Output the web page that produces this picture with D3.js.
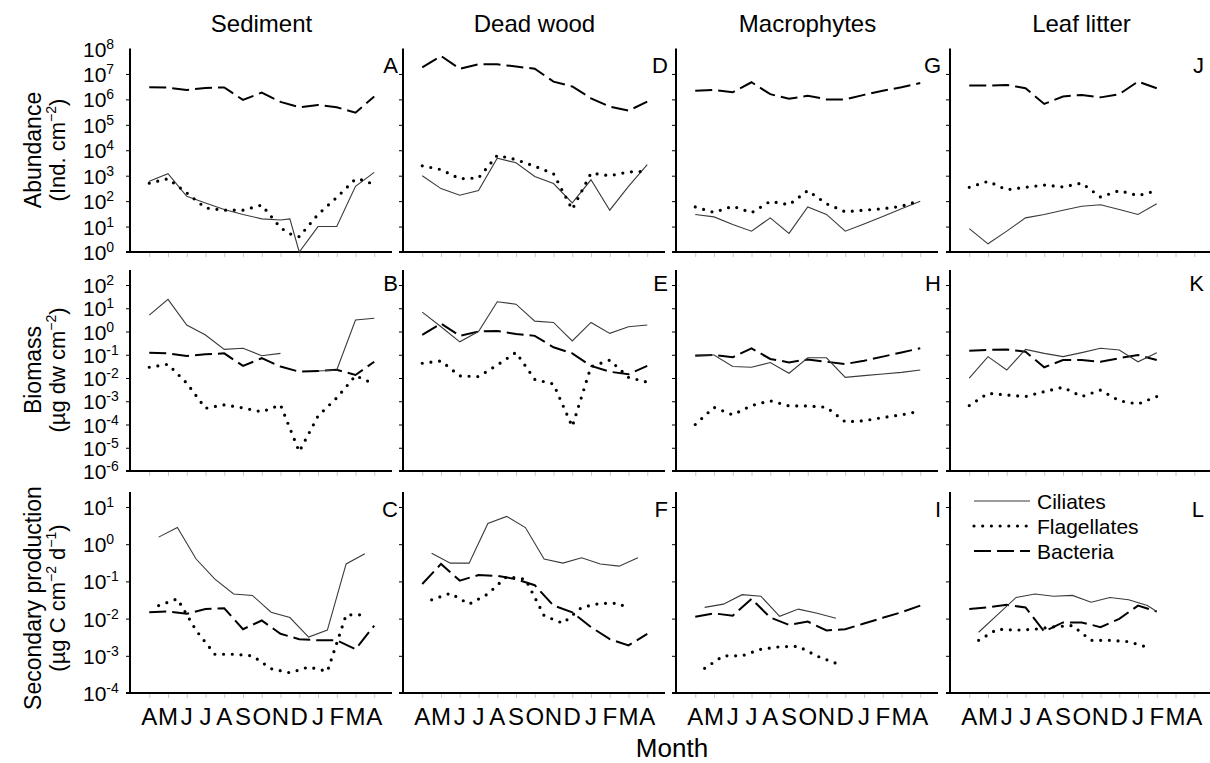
<!DOCTYPE html>
<html>
<head>
<meta charset="utf-8">
<script src="https://cdn.jsdelivr.net/npm/d3@7/dist/d3.min.js"></script>
<style>
  body { margin: 0; background: #fff; }
  text { font-family: "Liberation Sans", Arial, Helvetica, sans-serif; fill: #000; }
</style>
</head>
<body>
<script>
var W = 1210, H = 763;

var habitats = ["Sediment", "Dead wood", "Macrophytes", "Leaf litter"];
var monthLetters = ["A", "M", "J", "J", "A", "S", "O", "N", "D", "J", "F", "M", "A"];
var panelLetters = [["A", "B", "C"], ["D", "E", "F"], ["G", "H", "I"], ["J", "K", "L"]];
var seriesNames = ["Ciliates", "Flagellates", "Bacteria"];

// [month index from April (0) to April (12), value]
// sediment
var sedAbCil = [[0,600],[1,1200],[2,155],[3,85],[4,47],[5,30],[6,20],[7,18],[7.5,20],[8,1],[9,10],[10,10],[11,380],[12,1350]];
var sedAbFla = [[0,510],[1,760],[2,210],[3,54],[4,44],[5,44],[6,70],[7,9],[7.5,5.2],[8,4],[9,30],[10,140],[11,740],[11.5,660],[12,420]];
var sedAbBac = [[0,3.0e6],[1,2.9e6],[2,2.35e6],[3,2.8e6],[4,2.95e6],[5,9.5e5],[6,1.85e6],[7,8e5],[8,4.9e5],[9,6e5],[10,4.9e5],[11,3.0e5],[12,1.3e6]];
var sedBmCil = [[0,5.1],[1,24],[2,1.9],[3,0.71],[4,0.17],[5,0.19],[6,0.091],[7,0.115],[8,null],[9,0.02],[10,0.022],[11,3.1],[12,3.7]];
var sedBmFla = [[0,0.029],[1,0.039],[2,0.006],[3,0.0005],[4,0.0007],[5,0.00052],[6,0.00035],[7,0.0007],[8,6.8e-6],[9,0.00023],[10,0.0014],[11,0.0126],[12,0.0055]];
var sedBmBac = [[0,0.123],[1,0.115],[2,0.089],[3,0.105],[4,0.115],[5,0.033],[6,0.071],[7,0.031],[8,0.0186],[9,0.02],[10,0.0224],[11,0.0135],[12,0.05]];
var sedPrCil = [[0.5,1.55],[1.5,2.8],[2.5,0.4],[3.5,0.115],[4.5,0.046],[5.5,0.042],[6.5,0.0148],[7.5,0.0107],[8.5,0.0032],[9.5,0.0049],[10.5,0.295],[11.5,0.55]];
var sedPrFla = [[0.5,0.0224],[1.5,0.034],[2.5,0.0048],[3.5,0.0011],[4.5,0.0011],[5.5,0.001],[6.5,0.00045],[7.5,0.00035],[8.5,0.0005],[9.5,0.00038],[10.5,0.0126],[11.5,0.0126]];
var sedPrBac = [[0,0.0148],[1,0.0155],[2,0.0135],[3,0.018],[4,0.019],[5,0.0052],[6,0.0089],[7,0.0039],[8,0.0028],[9,0.0026],[10,0.0026],[11,0.0015],[12,0.0065]];
// dead wood
var dwAbCil = [[0,1000],[1,310],[2,170],[3,260],[4,4900],[5,3200],[6,930],[7,490],[8,85],[9,690],[10,44],[11,380],[12,2700]];
var dwAbFla = [[0,2450],[1,1740],[2,760],[3,810],[4,6300],[5,4300],[6,2350],[7,1200],[8,47],[9,1260],[10,1000],[11,1400],[12,1480]];
var dwAbBac = [[0,1.8e7],[1,5.1e7],[2,1.6e7],[3,2.4e7],[4,2.4e7],[5,1.95e7],[6,1.6e7],[7,5e6],[8,3.2e6],[9,1.1e6],[10,5.2e5],[11,3.6e5],[12,8.1e5]];
var dwBmCil = [[0,6.8],[1,1.6],[2,0.36],[3,1.0],[4,19],[5,15],[6,2.8],[7,2.45],[8,0.39],[9,2.45],[10,0.83],[11,1.6],[12,1.9]];
var dwBmFla = [[0,0.043],[1,0.054],[2,0.0123],[3,0.0115],[4,0.036],[5,0.126],[6,0.0087],[7,0.0055],[8,8.1e-5],[9,0.031],[10,0.059],[11,0.0107],[12,0.0066]];
var dwBmBac = [[0,0.71],[1,2.2],[2,0.65],[3,1.0],[4,1.05],[5,0.78],[6,0.65],[7,0.21],[8,0.115],[9,0.033],[10,0.0186],[11,0.0145],[12,0.033]];
var dwPrCil = [[0.5,0.575],[1.5,0.31],[2.5,0.31],[3.5,3.6],[4.5,5.6],[5.5,2.8],[6.5,0.4],[7.5,0.31],[8.5,0.43],[9.5,0.295],[10.5,0.257],[11.5,0.43]];
var dwPrFla = [[0.5,0.032],[1.5,0.048],[2.5,0.0245],[3.5,0.046],[4.5,0.135],[5.5,0.115],[6.5,0.012],[7.5,0.0075],[8.5,0.02],[9.5,0.0257],[10.5,0.0257],[11,0.018]];
var dwPrBac = [[0,0.085],[1,0.295],[2,0.105],[3,0.148],[4,0.141],[5,0.115],[6,0.079],[7,0.0224],[8,0.0148],[9,0.0059],[10,0.0028],[11,0.0019],[12,0.0039]];
// macrophytes
var maAbCil = [[0,30],[1,24],[2,12],[3,6.6],[4,22],[5,5.4],[6,59],[7,30],[8,6.6],[9,12.6],[10,25],[11,50],[12,98]];
var maAbFla = [[0,59],[1,36],[2,63],[3,35],[4,98],[5,72],[6,260],[7,79],[8,38],[9,44],[10,50],[11,63],[12,105]];
var maAbBac = [[0,2.2e6],[1,2.35e6],[2,1.9e6],[3,4.7e6],[4,1.6e6],[5,1.05e6],[6,1.4e6],[7,1.0e6],[8,1.0e6],[9,1.5e6],[10,2.2e6],[11,3.0e6],[12,4.4e6]];
var maBmCil = [[0,0.098],[1,0.098],[2,0.031],[3,0.029],[4,0.046],[5,0.016],[6,0.074],[7,0.074],[8,0.0107],[9,0.0126],[10,0.0148],[11,0.0174],[12,0.022]];
var maBmFla = [[0,1.0e-4],[1,5.5e-4],[2,2.6e-4],[3,6.5e-4],[4,1.05e-3],[5,6.3e-4],[6,6.3e-4],[7,5.5e-4],[8,1.3e-4],[9,1.45e-4],[10,2.0e-4],[11,2.6e-4],[12,3.8e-4]];
var maBmBac = [[0,0.091],[1,0.098],[2,0.078],[3,0.19],[4,0.066],[5,0.047],[6,0.063],[7,0.05],[8,0.04],[9,0.055],[10,0.083],[11,0.126],[12,0.19]];
var maPrCil = [[0.5,0.02],[1.5,0.0245],[2.5,0.044],[3.5,0.04],[4.5,0.0115],[5.5,0.018],[6.5,0.014],[7.5,0.0102]];
var maPrFla = [[0.5,4.6e-4],[1.5,1.0e-3],[2.5,1.0e-3],[3.5,1.5e-3],[4.5,1.75e-3],[5.5,1.8e-3],[6.5,9.8e-4],[7.5,6.3e-4]];
var maPrBac = [[0,0.0112],[1,0.0138],[2,0.012],[3,0.034],[4,0.0107],[5,0.0068],[6,0.0083],[7,0.0048],[8,0.0052],[9,0.0074],[10,0.0105],[11,0.0148],[12,0.0224]];
// leaf litter
var llAbCil = [[0,8.3],[1,2.1],[2,6.6],[3,22],[4,30],[5,44],[6,63],[7,72],[8,47],[9,30],[10,79]];
var llAbFla = [[0,350],[1,600],[2,280],[3,350],[4,430],[5,360],[6,510],[7,145],[8,260],[9,165],[10,260]];
var llAbBac = [[0,3.5e6],[1,3.5e6],[2,3.7e6],[3,2.75e6],[4,6.6e5],[5,1.3e6],[6,1.5e6],[7,1.2e6],[8,1.6e6],[9,5.0e6],[10,2.75e6]];
var llBmCil = [[0,0.0098],[1,0.083],[2,0.022],[3,0.17],[4,0.115],[5,0.083],[6,0.123],[7,0.19],[8,0.16],[9,0.05],[10,0.123]];
var llBmFla = [[0,6.5e-4],[1,2.2e-3],[2,1.85e-3],[3,1.6e-3],[4,2.6e-3],[5,4.0e-3],[6,1.6e-3],[7,3.0e-3],[8,1.05e-3],[9,7.6e-4],[10,1.6e-3]];
var llBmBac = [[0,0.15],[1,0.16],[2,0.17],[3,0.135],[4,0.029],[5,0.059],[6,0.059],[7,0.05],[8,0.071],[9,0.098],[10,0.059]];
var llPrCil = [[0.5,0.0043],[1.5,0.0126],[2.5,0.037],[3.5,0.046],[4.5,0.04],[5.5,0.042],[6.5,0.0275],[7.5,0.037],[8.5,0.032],[9.5,0.0224],[10,0.0155]];
var llPrFla = [[0.5,0.0026],[1.5,0.0052],[2.5,0.0049],[3.5,0.0052],[4.5,0.006],[5.5,0.0065],[6.5,0.0026],[7.5,0.0026],[8.5,0.0024],[9.5,0.0017]];
var llPrBac = [[0,0.018],[1,0.02],[2,0.0234],[3,0.02],[4,0.0045],[5,0.0079],[6,0.0079],[7,0.0059],[8,0.0098],[9,0.0224],[10,0.0155]];

var panels = [
  [[sedAbCil, sedAbFla, sedAbBac], [sedBmCil, sedBmFla, sedBmBac], [sedPrCil, sedPrFla, sedPrBac]],
  [[dwAbCil, dwAbFla, dwAbBac], [dwBmCil, dwBmFla, dwBmBac], [dwPrCil, dwPrFla, dwPrBac]],
  [[maAbCil, maAbFla, maAbBac], [maBmCil, maBmFla, maBmBac], [maPrCil, maPrFla, maPrBac]],
  [[llAbCil, llAbFla, llAbBac], [llBmCil, llBmFla, llBmBac], [llPrCil, llPrFla, llPrBac]]
];

var svg = d3.select("body").append("svg")
  .attr("width", W)
  .attr("height", H);

var colLeft = [130, 403, 676, 950];
var letterX = [398, 668, 941, 1204];
var panelW = 263;

var rows = [
  {axisTop: 48.5, yBot: 252, yTop: 48.5, lo: 0, hi: 8, letterY: 73, midY: 150,
   title: ["Abundance", ["(Ind. cm", "\u22122", ")"]]},
  {axisTop: 270, yBot: 471, yTop: 285, lo: -6, hi: 2, letterY: 291, midY: 370,
   title: ["Biomass", ["(\u00b5g dw cm", "\u22122", ")"]]},
  {axisTop: 492, yBot: 693, yTop: 507, lo: -4, hi: 1, letterY: 517, midY: 598,
   title: ["Secondary production", null]}
];

var styles = [
  {stroke: "#3a3a3a", width: 1.1, dash: null, cap: "butt"},
  {stroke: "#000", width: 3.2, dash: "0 8.7", cap: "round"},
  {stroke: "#000", width: 2, dash: "17 6", cap: "butt"}
];

function sup(sel, base, exp, size) {
  sel.append("tspan").text(base);
  sel.append("tspan").attr("font-size", size).attr("dy", -8).text(exp);
}

// column titles
habitats.forEach(function(h, c) {
  svg.append("text")
    .attr("x", colLeft[c] + panelW / 2)
    .attr("y", 32)
    .attr("text-anchor", "middle")
    .attr("font-size", 24)
    .text(h);
});

rows.forEach(function(r, ri) {
  var y = d3.scaleLog()
    .domain([Math.pow(10, r.lo), Math.pow(10, r.hi)])
    .range([r.yBot, r.yTop]);

  // tick labels on the first column
  d3.range(r.lo, r.hi + 1).forEach(function(e) {
    var t = svg.append("text")
      .attr("x", 83)
      .attr("y", y(Math.pow(10, e)) + 8)
      .attr("font-size", 21);
    sup(t, "10", e < 0 ? "-" + (-e) : "" + e, 14);
  });

  // row title
  var g = svg.append("g").attr("transform", "translate(41," + r.midY + ") rotate(-90)");
  g.append("text").attr("text-anchor", "middle").attr("font-size", 23).text(r.title[0]);
  var t2 = g.append("text").attr("text-anchor", "middle").attr("font-size", 22).attr("y", 24);
  if (r.title[1]) {
    t2.append("tspan").text(r.title[1][0]);
    t2.append("tspan").attr("font-size", 14).attr("dy", -9).text(r.title[1][1]);
    t2.append("tspan").attr("dy", 9).text(r.title[1][2]);
  } else {
    t2.append("tspan").text("(\u00b5g C cm");
    t2.append("tspan").attr("font-size", 14).attr("dy", -9).text("\u22122");
    t2.append("tspan").attr("dy", 9).text(" d");
    t2.append("tspan").attr("font-size", 14).attr("dy", -9).text("\u22121");
    t2.append("tspan").attr("dy", 9).text(")");
  }

  colLeft.forEach(function(left, c) {
    var x = d3.scaleLinear().domain([-1, 13]).range([left + 0.5, left + panelW]);
    var p = svg.append("g");

    // y ticks
    var tickVals = d3.range(r.lo + 1, r.hi + 1).map(function(e) { return Math.pow(10, e); })
      .filter(function(v) { return y(v) > r.axisTop + 1; });
    p.append("g")
      .attr("transform", "translate(" + left + ",0)")
      .call(d3.axisLeft(y).tickValues(tickVals).tickSize(4).tickFormat(""))
      .call(function(a) {
        a.select(".domain").remove();
        a.selectAll("line").attr("stroke", "#000").attr("stroke-width", 1);
      });

    // x ticks
    p.append("g")
      .attr("transform", "translate(0," + (r.yBot + 1) + ")")
      .call(d3.axisBottom(x).tickValues(d3.range(0, 13)).tickSize(4).tickFormat(""))
      .call(function(a) {
        a.select(".domain").remove();
        a.selectAll("line").attr("stroke", "#c8c8c8").attr("stroke-width", 1);
      });

    // axis lines
    p.append("line")
      .attr("x1", left).attr("x2", left)
      .attr("y1", r.axisTop).attr("y2", r.yBot + 1)
      .attr("stroke", "#000").attr("stroke-width", 2);
    p.append("line")
      .attr("x1", left - 4).attr("x2", left + panelW - 1)
      .attr("y1", r.yBot).attr("y2", r.yBot)
      .attr("stroke", "#000").attr("stroke-width", 2);

    // series
    var line = d3.line()
      .defined(function(d) { return d[1] != null; })
      .x(function(d) { return x(d[0]); })
      .y(function(d) { return y(d[1]); });

    [2, 0, 1].forEach(function(si) {
      var s = styles[si];
      p.append("path")
        .datum(panels[c][ri][si])
        .attr("d", line)
        .attr("fill", "none")
        .attr("stroke", s.stroke)
        .attr("stroke-width", s.width)
        .attr("stroke-dasharray", s.dash)
        .attr("stroke-linecap", s.cap);
    });

    // panel letter
    p.append("text")
      .attr("x", letterX[c])
      .attr("y", r.letterY)
      .attr("text-anchor", "end")
      .attr("font-size", 22)
      .text(panelLetters[c][ri]);

    // month letters on the bottom row
    if (ri === 2) {
      monthLetters.forEach(function(m, i) {
        p.append("text")
          .attr("x", x(i))
          .attr("y", 725)
          .attr("text-anchor", "middle")
          .attr("font-size", 24)
          .text(m);
      });
    }
  });
});

// legend in panel L
var legY = [501, 526, 551];
seriesNames.forEach(function(n, i) {
  var s = styles[i];
  svg.append("line")
    .attr("x1", 974).attr("x2", 1030)
    .attr("y1", legY[i]).attr("y2", legY[i])
    .attr("stroke", s.stroke)
    .attr("stroke-width", s.width)
    .attr("stroke-dasharray", s.dash)
    .attr("stroke-linecap", s.cap);
  svg.append("text")
    .attr("x", 1037)
    .attr("y", legY[i] + 8)
    .attr("font-size", 21)
    .text(n);
});

svg.append("text")
  .attr("x", 672)
  .attr("y", 757)
  .attr("text-anchor", "middle")
  .attr("font-size", 26)
  .text("Month");
</script>
</body>
</html>
